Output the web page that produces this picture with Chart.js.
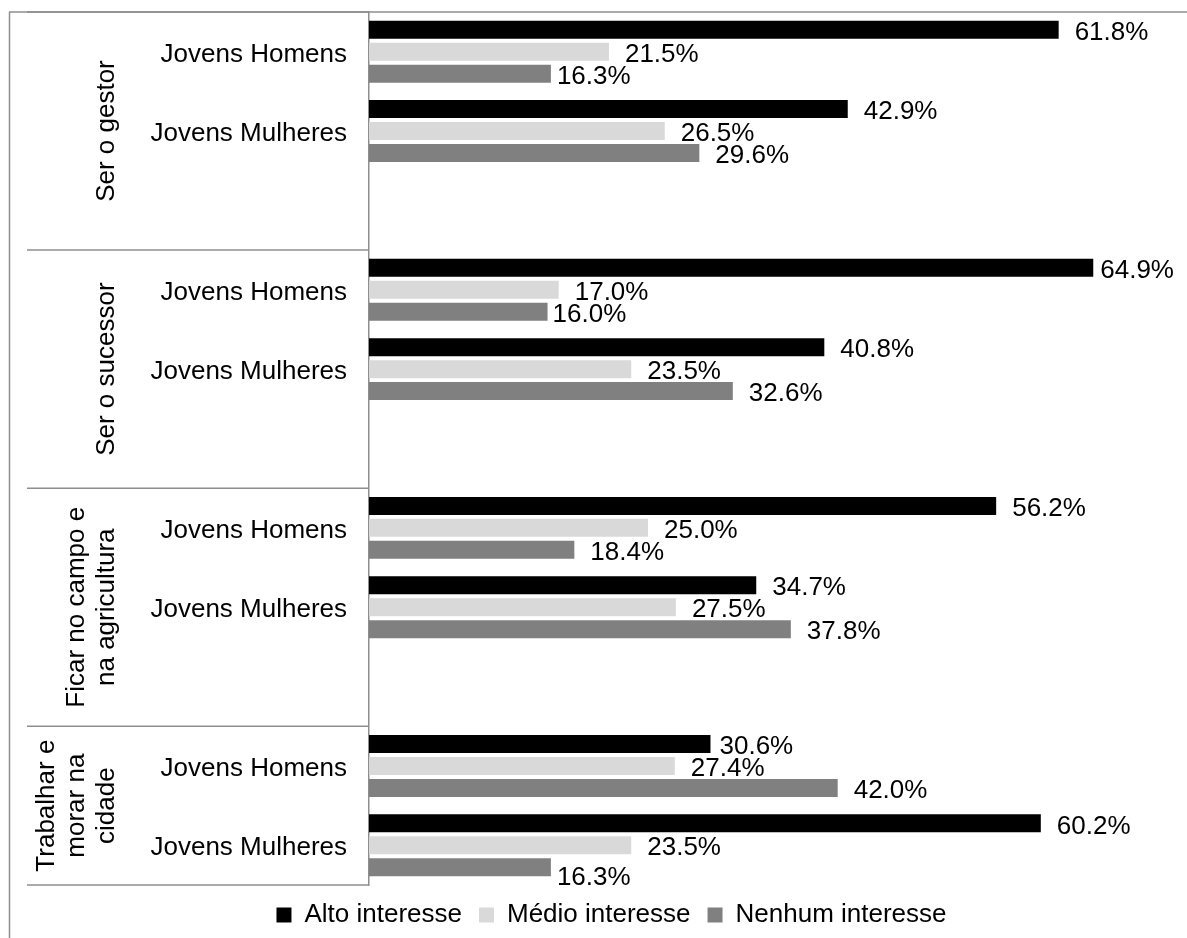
<!DOCTYPE html>
<html lang="pt">
  <head>
    <meta charset="UTF-8" />
    <title>Interesse dos jovens</title>
    <script src="https://cdn.jsdelivr.net/npm/chart.js@4.4.1/dist/chart.umd.min.js"></script>
    <style>
      body {
        margin: 0;
        background: #fff;
      }
      canvas {
        display: block;
      }
    </style>
  </head>
  <body>
    <canvas id="chart" width="1187" height="938"></canvas>

    <script>
      // group labels (one entry per line of the rotated text)
      const groups = [
        ["Ser o gestor"],
        ["Ser o sucessor"],
        ["Ficar no campo e", "na agricultura"],
        ["Trabalhar e", "morar na", "cidade"],
      ];
      const subgroups = ["Jovens Homens", "Jovens Mulheres"];
      const seriesNames = ["Alto interesse", "Médio interesse", "Nenhum interesse"];

      // values per group: Homens, Mulheres
      const alto = [61.8, 42.9, 64.9, 40.8, 56.2, 34.7, 30.6, 60.2];
      const medio = [21.5, 26.5, 17.0, 23.5, 25.0, 27.5, 27.4, 23.5];
      const nenhum = [16.3, 29.6, 16.0, 32.6, 18.4, 37.8, 42.0, 16.3];

      const colors = ["#000000", "#d9d9d9", "#808080"];

      // small hand nudges the original labels had (dataset-slot)
      const labelNudge = {
        "0-3": { dx: -9, dy: 0 },
        "0-9": { dx: -7, dy: 0 },
        "2-0": { dx: -10, dy: 0 },
        "2-3": { dx: -11, dy: 0 },
        "2-10": { dx: -10, dy: 8 },
      };

      // build the slots: two subgroups then a blank gap between groups
      const slotLabels = [];
      const slotGroup = [];
      groups.forEach((g, gi) => {
        subgroups.forEach((s) => {
          slotLabels.push(s);
          slotGroup.push(gi);
        });
        if (gi < groups.length - 1) {
          slotLabels.push("");
          slotGroup.push(null);
        }
      });

      function toSlots(values) {
        const out = [];
        let k = 0;
        groups.forEach((g, gi) => {
          subgroups.forEach(() => out.push(values[k++]));
          if (gi < groups.length - 1) out.push(null);
        });
        return out;
      }

      const FONT = "'Liberation Sans', Arial, sans-serif";
      const LINE = "#8e8e8e";

      const decorPlugin = {
        id: "decor",
        afterDraw(chart) {
          const ctx = chart.ctx;
          const area = chart.chartArea;
          const slotH = (area.bottom - area.top) / slotLabels.length;

          ctx.save();
          ctx.strokeStyle = LINE;
          ctx.lineWidth = 1.5;

          // outer frame (left + top)
          ctx.beginPath();
          ctx.moveTo(9.5, area.top);
          ctx.lineTo(9.5, chart.height);
          ctx.moveTo(9, area.top);
          ctx.lineTo(chart.width, area.top);
          ctx.stroke();

          // group separators in the category area
          const bounds = [area.top];
          slotGroup.forEach((g, i) => {
            if (g === null) bounds.push(area.top + (i + 1) * slotH);
          });
          bounds.push(area.bottom);
          ctx.beginPath();
          bounds.forEach((b) => {
            ctx.moveTo(27, b);
            ctx.lineTo(area.left, b);
          });
          ctx.stroke();

          // rotated group labels
          ctx.fillStyle = "#000";
          ctx.font = "26px " + FONT;
          ctx.textAlign = "center";
          ctx.textBaseline = "alphabetic";
          groups.forEach((lines, gi) => {
            const yc = (bounds[gi] + bounds[gi + 1]) / 2;
            lines.forEach((line, li) => {
              const x = 114 - (lines.length - 1 - li) * 30;
              ctx.save();
              ctx.translate(x, yc);
              ctx.rotate(-Math.PI / 2);
              ctx.fillText(line, 0, 0);
              ctx.restore();
            });
          });

          // value labels
          ctx.textAlign = "left";
          ctx.textBaseline = "middle";
          chart.data.datasets.forEach((ds, di) => {
            const meta = chart.getDatasetMeta(di);
            meta.data.forEach((bar, i) => {
              const v = ds.data[i];
              if (v === null || v === undefined) return;
              const n = labelNudge[di + "-" + i] || { dx: 0, dy: 0 };
              ctx.fillText(v.toFixed(1) + "%", bar.x + 16 + n.dx, bar.y + 3 + n.dy);
            });
          });
          ctx.restore();
        },
      };

      Chart.defaults.font.family = FONT;
      Chart.defaults.font.size = 26;
      Chart.defaults.color = "#000";

      new Chart(document.getElementById("chart"), {
        type: "bar",
        data: {
          labels: slotLabels,
          datasets: [
            { label: seriesNames[0], data: toSlots(alto), backgroundColor: colors[0] },
            { label: seriesNames[1], data: toSlots(medio), backgroundColor: colors[1] },
            { label: seriesNames[2], data: toSlots(nenhum), backgroundColor: colors[2] },
          ],
        },
        options: {
          indexAxis: "y",
          responsive: false,
          animation: false,
          categoryPercentage: 0.83,
          barPercentage: 0.82,
          borderWidth: 0,
          layout: {
            padding: { top: 12, left: 36, right: 0, bottom: 0 },
          },
          scales: {
            x: {
              display: false,
              min: 0,
              max: 73.3,
            },
            y: {
              grid: { display: false, drawTicks: false },
              border: { display: true, color: LINE, width: 1.5 },
              ticks: { padding: 22, labelOffset: 3, color: "#000", font: { size: 26 } },
              afterFit(scale) {
                scale.width = 333;
                scale.paddingTop = 0;
                scale.paddingBottom = 0;
              },
            },
          },
          plugins: {
            tooltip: { enabled: false },
            legend: {
              position: "bottom",
              labels: {
                boxWidth: 15,
                boxHeight: 15,
                padding: 17,
                color: "#000",
                font: { size: 26 },
              },
            },
          },
        },
        plugins: [decorPlugin],
      });
    </script>
  </body>
</html>
